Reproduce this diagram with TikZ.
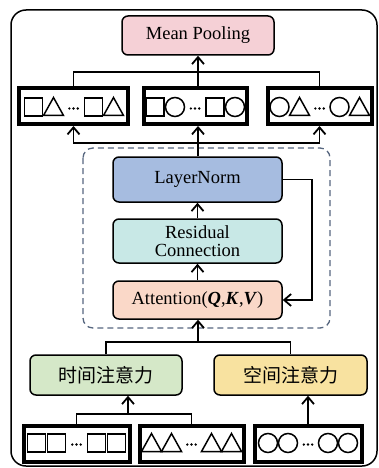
\documentclass[tikz,border=0pt]{standalone}
\usepackage{fontspec}
\setmainfont{Liberation Serif}
\newfontfamily\cjk{Noto Sans CJK SC}
\usetikzlibrary{arrows.meta,calc}
\definecolor{meanc}{HTML}{F5D0D6}
\definecolor{lnc}{HTML}{A6BCE0}
\definecolor{resc}{HTML}{C8E8E6}
\definecolor{attc}{HTML}{FAD8C8}
\definecolor{timec}{HTML}{D5E8C8}
\definecolor{spacec}{HTML}{F8E2A0}
\definecolor{dashc}{HTML}{56667F}
\newcommand\symrow[6]{%
  \pic at ({#1-40},#2) {#3};
  \pic at ({#1-20},#2) {#4};
  \pic at (#1,#2) {dts};
  \pic at ({#1+20},#2) {#5};
  \pic at ({#1+40},#2) {#6};}
\begin{document}
\begin{tikzpicture}[x=1pt,y=-1pt, line width=1.5pt,
  >={Straight Barb[length=7pt,width=12pt,line width=1.8pt]},
  box/.style={draw, rounded corners=6pt, line width=1.5pt, minimum width=169pt,
    font=\fontsize{18.5}{20}\selectfont, align=center, inner sep=0pt},
  cbox/.style={box, font=\cjk\fontsize{19}{20}\selectfont, minimum width=152pt, minimum height=40pt},
  tok/.style={draw, line width=4pt, minimum height=36pt, inner sep=0pt},
  sym/.style={line width=1.5pt},
  sqs/.pic={\draw[sym] (-9,-9) rectangle (9,9);},
  tri/.pic={\draw[sym, line join=miter] (-10,8.5) -- (0,-9.5) -- (10,8.5) -- cycle;},
  cir/.pic={\draw[sym] (0,0) circle (9.5);},
  dts/.pic={\fill (-4.2,1.5) circle (1.3) (0,1.5) circle (1.3) (4.2,1.5) circle (1.3);}]
\useasboundingbox (0,0) rectangle (379,468);
% outer frame
\draw[rounded corners=15pt, line width=1.5pt] (11,10) rectangle (377,466);
% dashed block
\draw[dashc, dashed, dash pattern=on 6pt off 4pt, rounded corners=10pt, line width=1.3pt] (83,148) rectangle (330,328);

% nodes
\node[box, fill=meanc, minimum width=152pt, minimum height=39pt] (mean) at (198,35.5) {Mean Pooling};
\node[tok, minimum width=109pt] (t1) at (73.5,106) {};
\node[tok, minimum width=103pt] (t2) at (195,106) {};
\node[tok, minimum width=104pt] (t3) at (319.5,106) {};
\node[box, fill=lnc, minimum height=45pt] (ln) at (197.5,179.5) {LayerNorm};
\node[box, fill=resc, minimum height=44pt] (res) at (197.5,241) {Residual\\[-2pt]Connection};
\node[box, fill=attc, minimum height=38pt] (att) at (197.5,300) {Attention(\textbf{\textit{Q}},\textbf{\textit{K}},\textbf{\textit{V}})};
\node[cbox, fill=timec] (time) at (106,375) {时间注意力};
\node[cbox, fill=spacec, minimum width=153pt] (space) at (290.5,375) {空间注意力};
\node[tok, minimum width=106pt] (ba) at (76.5,443.5) {};
\node[tok, minimum width=104pt] (bb) at (191.5,443.5) {};
\node[tok, minimum width=107pt] (bc) at (308,443.5) {};

% symbols
\symrow{73.5}{107}{sqs}{tri}{sqs}{tri}
\symrow{195}{107}{sqs}{cir}{sqs}{cir}
\symrow{319.5}{107}{cir}{tri}{cir}{tri}
\symrow{76.5}{443}{sqs}{sqs}{sqs}{sqs}
\symrow{191.5}{443}{tri}{tri}{tri}{tri}
\symrow{308}{443}{cir}{cir}{cir}{cir}

% connectors
\coordinate (j1) at (198,72);
\coordinate (j2) at (198,143);
\coordinate (j3) at (198,342);
\coordinate (j4) at (128,414);
\draw (t1.north) |- (j1) -| (t3.north);
\draw[->] (t2.north -| j1) -- (mean.south -| j1);
\draw (ln.north -| j2) -- (j2);
\draw[->] (j2) -| (t1.south);
\draw[->] (j2) -| (t3.south);
\draw[->] (j2) -- (t2.south -| j2);
\draw[->] (res.north) -- (ln.south);
\draw[->] (att.north) -- (res.south);
\draw[->] (ln.east) -- ++(29,0) |- (att.east);
\draw (time.north) |- (j3) -| (space.north);
\draw[->] (j3) -- (att.south -| j3);
\draw (ba.north) |- (j4) -| (bb.north);
\draw[->] (j4) -- (time.south -| j4);
\draw[->] (bc.north) -- (space.south -| bc.north);
\end{tikzpicture}
\end{document}
